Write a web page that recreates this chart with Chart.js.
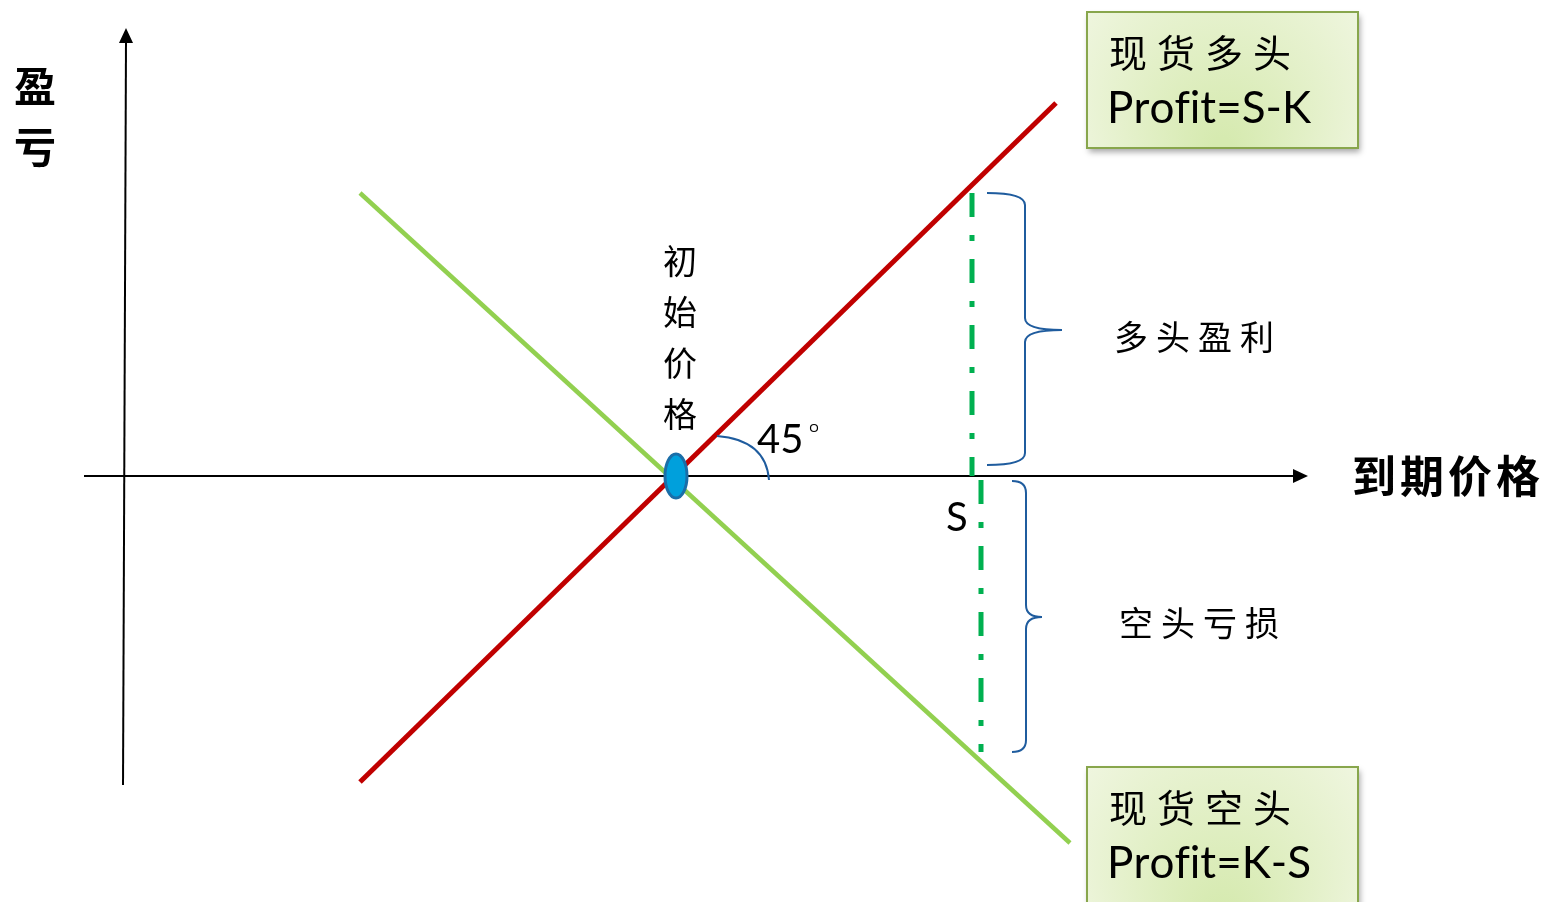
<!DOCTYPE html>
<html>
<head>
<meta charset="utf-8">
<script src="https://cdn.jsdelivr.net/npm/chart.js@4.4.0/dist/chart.umd.min.js"></script>
<style>
  body { margin: 0; background: #fff; }
  canvas { display: block; }
</style>
</head>
<body>
<canvas id="payoff" width="1545" height="902"></canvas>
<script>
// Payoff lines (price at expiry vs profit)
const longPrice = [360, 1056];
const longProfit = [-306, 373];
const shortPrice = [360, 1070];
const shortProfit = [283, -367];
const strike = 676;
// Spot price S, dashed marker (profit side / loss side)
const spotUpPrice = [972, 972];
const spotUpProfit = [283, 0];
const spotDownPrice = [981, 981];
const spotDownProfit = [-4, -276];

const toPoints = (xs, ys) => xs.map((x, i) => ({ x: x, y: ys[i] }));

const CJK = '"Noto Sans CJK SC", sans-serif';
const LAT = 'Lato, "Open Sans", sans-serif';

function arrowHead(ctx, x, y, dir) {
  ctx.save();
  ctx.translate(x, y);
  ctx.rotate(dir);
  ctx.beginPath();
  ctx.moveTo(0, 0);
  ctx.lineTo(-15, -7);
  ctx.lineTo(-15, 7);
  ctx.closePath();
  ctx.fillStyle = '#000';
  ctx.fill();
  ctx.restore();
}

function brace(ctx, x0, y0, x1, y1, tipX, tipY) {
  // left-open curly brace, tip pointing right
  ctx.beginPath();
  ctx.moveTo(x0, y0);
  ctx.quadraticCurveTo(x1, y0, x1, y0 + 12);
  ctx.lineTo(x1, tipY - 12);
  ctx.quadraticCurveTo(x1, tipY, tipX, tipY);
  ctx.quadraticCurveTo(x1, tipY, x1, tipY + 12);
  ctx.lineTo(x1, y1 - 12);
  ctx.quadraticCurveTo(x1, y1, x0, y1);
  ctx.stroke();
}

// draw char by char (no ligatures, optional extra spacing)
function spaced(ctx, txt, x, y, gap) {
  for (const ch of txt) {
    ctx.fillText(ch, x, y);
    x += ctx.measureText(ch).width + gap;
  }
}

function noteBox(ctx, x, y, w, h, line1, line2) {
  ctx.save();
  ctx.shadowColor = 'rgba(0,0,0,0.35)';
  ctx.shadowBlur = 6;
  ctx.shadowOffsetX = 2;
  ctx.shadowOffsetY = 4;
  const g = ctx.createRadialGradient(x + w / 2, y + h, 10, x + w / 2, y + h / 2, w * 0.7);
  g.addColorStop(0, '#d6eab0');
  g.addColorStop(1, '#f4f8e8');
  ctx.fillStyle = g;
  ctx.fillRect(x, y, w, h);
  ctx.restore();
  ctx.strokeStyle = '#88a64c';
  ctx.lineWidth = 2;
  ctx.strokeRect(x, y, w, h);
  ctx.fillStyle = '#000';
  ctx.textAlign = 'left';
  ctx.textBaseline = 'middle';
  ctx.font = '38px ' + CJK;
  spaced(ctx, line1, x + 22, y + 41, 10);
  ctx.font = '44px ' + LAT;
  spaced(ctx, line2, x + 20, y + 97, 0);
}

const decor = {
  id: 'decor',
  beforeDatasetsDraw(chart) {
    const ctx = chart.ctx;
    const sx = chart.scales.x, sy = chart.scales.y;
    const X = v => sx.getPixelForValue(v);
    const Y = v => sy.getPixelForValue(v);
    ctx.save();
    ctx.strokeStyle = '#000';
    ctx.lineWidth = 2;
    // horizontal axis
    ctx.beginPath();
    ctx.moveTo(X(84), Y(0));
    ctx.lineTo(X(1296), Y(0));
    ctx.stroke();
    arrowHead(ctx, X(1308), Y(0), 0);
    // vertical axis
    ctx.beginPath();
    ctx.moveTo(X(123), Y(-309));
    ctx.lineTo(X(126), Y(436));
    ctx.stroke();
    arrowHead(ctx, X(126), Y(448), -Math.PI / 2);
    ctx.restore();
  },
  afterDraw(chart) {
    const ctx = chart.ctx;
    const sx = chart.scales.x, sy = chart.scales.y;
    const X = v => sx.getPixelForValue(v);
    const Y = v => sy.getPixelForValue(v);
    ctx.save();

    // 45 degree arc
    ctx.strokeStyle = '#1f5c9e';
    ctx.lineWidth = 2;
    ctx.beginPath();
    ctx.moveTo(X(717), Y(40));
    ctx.quadraticCurveTo(X(766), Y(36), X(769), Y(-4));
    ctx.stroke();

    // braces
    brace(ctx, X(987), Y(283), X(1025), Y(11), X(1062), Y(146));
    brace(ctx, X(1012), Y(-5), X(1026), Y(-276), X(1042), Y(-141));

    // initial price marker
    ctx.beginPath();
    ctx.ellipse(X(strike), Y(0), 11, 22, 0, 0, Math.PI * 2);
    ctx.fillStyle = '#00a0dc';
    ctx.fill();
    ctx.strokeStyle = '#1a6ea8';
    ctx.lineWidth = 3;
    ctx.stroke();

    ctx.fillStyle = '#000';
    ctx.textAlign = 'center';
    ctx.textBaseline = 'middle';

    // axis titles
    ctx.font = 'bold 42px ' + CJK;
    ctx.fillText('盈', 35, 86);
    ctx.fillText('亏', 35, 147);
    ctx.textAlign = 'left';
    ctx.font = 'bold 44px ' + CJK;
    spaced(ctx, '到期价格', 1352, 476, 4);

    // vertical label
    ctx.textAlign = 'center';
    ctx.font = '34px ' + CJK;
    [...'初始价格'].forEach((ch, i) => ctx.fillText(ch, X(strike) + 4, 261 + i * 51));

    ctx.font = '40px ' + LAT;
    ctx.textAlign = 'left';
    ctx.fillText('45', 757, 440);
    ctx.lineWidth = 1.2;
    ctx.strokeStyle = '#000';
    ctx.beginPath();
    ctx.arc(814, 428, 3.5, 0, Math.PI * 2);
    ctx.stroke();
    ctx.fillText('S', 946, 518);

    ctx.font = '34px ' + CJK;
    spaced(ctx, '多头盈利', 1114, 337, 8);
    spaced(ctx, '空头亏损', 1119, 623, 8);

    noteBox(ctx, 1087, 12, 271, 136, '现货多头', 'Profit=S-K');
    noteBox(ctx, 1087, 767, 271, 150, '现货空头', 'Profit=K-S');
    ctx.restore();
  }
};

new Chart(document.getElementById('payoff').getContext('2d'), {
  type: 'scatter',
  data: {
    datasets: [
      {
        label: '现货多头',
        data: toPoints(longPrice, longProfit),
        showLine: true,
        borderColor: '#c00000',
        borderWidth: 5,
        pointRadius: 0
      },
      {
        label: '现货空头',
        data: toPoints(shortPrice, shortProfit),
        showLine: true,
        borderColor: '#92d050',
        borderWidth: 4.5,
        pointRadius: 0
      },
      {
        label: 'S',
        data: toPoints(spotUpPrice, spotUpProfit),
        showLine: true,
        borderColor: '#00b050',
        borderWidth: 5,
        borderDash: [24, 18, 6, 18],
        pointRadius: 0
      },
      {
        label: 'S2',
        data: toPoints(spotDownPrice, spotDownProfit),
        showLine: true,
        borderColor: '#00b050',
        borderWidth: 5,
        borderDash: [24, 18, 6, 18],
        pointRadius: 0
      }
    ]
  },
  options: {
    responsive: false,
    animation: false,
    layout: { padding: 0 },
    plugins: { legend: { display: false }, tooltip: { enabled: false } },
    scales: {
      x: { type: 'linear', min: 0, max: 1545, display: false },
      y: { type: 'linear', min: -426, max: 476, display: false }
    }
  },
  plugins: [decor]
});
</script>
</body>
</html>
